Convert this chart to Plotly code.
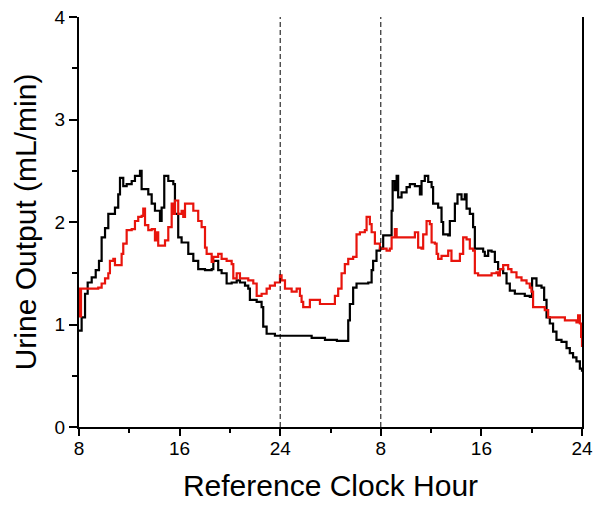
import plotly.graph_objects as go

# Reference clock hour (continuous, 8 -> 48 = 8h day 1 -> 24h day 2)
black_hours = [8.00, 8.21, 8.48, 8.69, 9.01, 9.33, 9.59, 9.80, 10.07, 10.33, 10.86, 11.12, 11.26, 11.52, 11.79,
               12.19, 12.45, 12.85, 12.98, 13.51, 13.78, 14.04, 14.44, 14.57, 14.78, 15.10, 15.50, 15.63, 15.89,
               16.16, 16.69, 17.09, 17.48, 18.02, 18.55, 18.68, 19.07, 19.34, 19.74, 20.14, 20.54, 20.80, 21.20,
               21.46, 21.59, 22.13, 22.52, 22.65, 22.92, 23.58, 25.70, 26.50, 27.56, 28.51, 29.41, 29.54, 29.80,
               30.07, 31.00, 31.27, 31.39, 31.66, 31.93, 32.19, 32.72, 32.86, 32.94, 33.12, 33.26, 33.38, 33.65,
               34.05, 34.31, 34.71, 35.11, 35.24, 35.50, 35.77, 36.04, 36.16, 36.56, 36.83, 36.96, 37.36, 37.49,
               37.89, 38.10, 38.42, 38.68, 38.82, 39.08, 39.34, 39.48, 40.14, 40.27, 40.54, 40.81, 41.07, 41.33,
               41.73, 42.00, 42.26, 42.66, 43.45, 43.85, 44.03, 44.38, 44.78, 44.99, 45.18, 45.44, 45.70, 45.97,
               46.37, 46.77, 47.03, 47.29, 47.56, 47.83, 48.00]
black_values = [0.94, 1.07, 1.30, 1.41, 1.46, 1.53, 1.62, 1.85, 1.94, 2.08, 2.14, 2.27, 2.43, 2.35, 2.37,
                2.40, 2.45, 2.50, 2.32, 2.27, 2.18, 2.11, 2.01, 2.14, 2.45, 2.40, 2.37, 2.08, 1.85,
                1.80, 1.69, 1.62, 1.54, 1.53, 1.54, 1.62, 1.53, 1.50, 1.40, 1.41, 1.43, 1.41, 1.38,
                1.35, 1.24, 1.22, 1.17, 0.98, 0.91, 0.89, 0.89, 0.87, 0.85, 0.84, 1.04, 1.20, 1.36,
                1.40, 1.41, 1.53, 1.62, 1.72, 1.74, 1.87, 1.87, 2.11, 2.40, 2.31, 2.45, 2.24, 2.29,
                2.34, 2.37, 2.35, 2.27, 2.40, 2.45, 2.39, 2.34, 2.18, 2.14, 2.00, 1.88, 1.87, 2.01,
                2.18, 2.27, 2.22, 2.27, 2.13, 2.08, 1.95, 1.74, 1.71, 1.67, 1.72, 1.71, 1.61, 1.54,
                1.50, 1.40, 1.33, 1.30, 1.28, 1.27, 1.45, 1.38, 1.36, 1.24, 1.07, 1.01, 0.93, 0.85,
                0.83, 0.77, 0.72, 0.68, 0.64, 0.57, 0.54]

red_hours = [8.00, 8.08, 8.16, 9.27, 9.53, 9.80, 10.07, 10.33, 10.46, 10.73, 10.86, 11.26, 11.39, 11.52, 11.79,
             12.19, 12.45, 12.71, 12.98, 13.11, 13.25, 13.51, 13.78, 14.04, 14.18, 14.30, 14.57, 14.84, 15.10,
             15.37, 15.50, 15.63, 15.89, 16.16, 16.29, 16.43, 16.82, 17.09, 17.48, 17.75, 18.02, 18.15, 18.55,
             18.68, 19.07, 19.34, 19.74, 20.14, 20.27, 20.54, 20.80, 21.46, 21.86, 22.13, 22.52, 22.92, 23.18,
             23.58, 23.98, 24.11, 24.38, 24.91, 25.31, 25.57, 25.70, 25.83, 26.36, 26.90, 27.16, 28.22, 28.35,
             28.61, 28.88, 29.14, 29.41, 29.80, 30.07, 30.34, 30.73, 30.87, 31.13, 31.27, 31.53, 31.93, 32.46,
             32.72, 32.86, 33.12, 33.26, 34.57, 34.71, 34.97, 35.24, 35.37, 35.64, 35.90, 36.04, 36.30, 36.44,
             36.56, 36.83, 37.36, 37.62, 38.15, 38.29, 38.55, 38.82, 39.08, 39.34, 39.48, 39.74, 40.81, 41.20,
             41.33, 41.47, 41.73, 42.13, 42.39, 42.79, 43.19, 43.59, 43.85, 43.98, 44.11, 44.51, 45.04, 45.31,
             45.84, 46.64, 47.56, 47.69, 47.83, 47.93, 48.00]
red_values = [1.35, 1.08, 1.35, 1.35, 1.36, 1.40, 1.45, 1.50, 1.62, 1.64, 1.58, 1.58, 1.69, 1.79, 1.92,
              1.93, 2.01, 2.05, 2.06, 2.13, 1.97, 1.92, 1.93, 1.82, 1.90, 1.77, 1.77, 1.82, 1.95,
              2.18, 2.08, 2.21, 2.08, 2.11, 2.05, 2.18, 2.18, 2.11, 2.01, 1.95, 1.75, 1.69, 1.61,
              1.66, 1.69, 1.64, 1.62, 1.59, 1.45, 1.50, 1.45, 1.43, 1.40, 1.28, 1.30, 1.35, 1.38,
              1.41, 1.48, 1.43, 1.35, 1.32, 1.35, 1.28, 1.22, 1.17, 1.24, 1.24, 1.20, 1.20, 1.28,
              1.35, 1.50, 1.59, 1.64, 1.66, 1.88, 1.90, 1.92, 2.05, 1.98, 1.90, 1.79, 1.74, 1.72,
              1.74, 1.85, 1.93, 1.85, 1.85, 1.90, 1.75, 1.74, 1.88, 2.01, 1.98, 1.80, 1.79, 1.69,
              1.64, 1.67, 1.72, 1.62, 1.62, 1.69, 1.85, 1.83, 1.74, 1.72, 1.50, 1.48, 1.50, 1.51,
              1.48, 1.54, 1.58, 1.54, 1.51, 1.46, 1.43, 1.40, 1.36, 1.32, 1.17, 1.17, 1.14, 1.07,
              1.07, 1.04, 1.02, 1.09, 1.01, 0.88, 0.78]

x_tick_vals = [8, 16, 24, 32, 40, 48]
x_tick_text = ["8", "16", "24", "8", "16", "24"]
y_tick_vals = [0, 1, 2, 3, 4]
midnight_lines = [24, 32]

FONT = "Liberation Sans, Arial, sans-serif"

fig = go.Figure()
fig.add_trace(go.Scatter(x=black_hours, y=black_values, mode="lines", line_shape="hv",
                         line=dict(color="black", width=2.2), showlegend=False))
fig.add_trace(go.Scatter(x=red_hours, y=red_values, mode="lines", line_shape="hv",
                         line=dict(color="#e8140c", width=2.2), showlegend=False))

for xv in midnight_lines:
    fig.add_shape(type="line", xref="x", yref="y", x0=xv, x1=xv, y0=0, y1=4,
                  line=dict(color="black", width=1, dash="5px,3px"))

fig.update_layout(
    width=602, height=508,
    margin=dict(l=79, r=20, t=17, b=81),
    plot_bgcolor="white", paper_bgcolor="white",
    font=dict(family=FONT, color="black"),
    xaxis=dict(range=[8, 48], tickmode="array", tickvals=x_tick_vals, ticktext=x_tick_text,
               automargin=False,
               ticks="outside", ticklen=7, tickwidth=1.5, tickcolor="black",
               ticklabelstandoff=-4,
               showline=True, linecolor="black", linewidth=2, showgrid=False, zeroline=False,
               tickfont=dict(size=19, family=FONT),
               minor=dict(tickmode="linear", tick0=8, dtick=4, ticks="outside", ticklen=4,
                          tickwidth=1.5, tickcolor="black", showgrid=False),
               title=dict(text="Reference Clock Hour", font=dict(size=30, family=FONT), standoff=17)),
    yaxis=dict(range=[0, 4], tickmode="array", tickvals=y_tick_vals,
               automargin=False,
               ticks="outside", ticklen=8, tickwidth=1.5, tickcolor="black",
               showline=True, linecolor="black", linewidth=2, mirror=True, showgrid=False, zeroline=False,
               tickfont=dict(size=19, family=FONT),
               minor=dict(tickmode="linear", tick0=0, dtick=0.5, ticks="outside", ticklen=5,
                          tickwidth=1.5, tickcolor="black", showgrid=False),
               title=dict(text="Urine Output (mL/min)", font=dict(size=30, family=FONT), standoff=9)),
)

# remove the browser's default 8px page margin so the figure fills the window exactly
fig.write_html("out.html",
               config={"displayModeBar": False},
               post_script="document.body.style.margin='0';document.body.style.overflow='hidden';")
